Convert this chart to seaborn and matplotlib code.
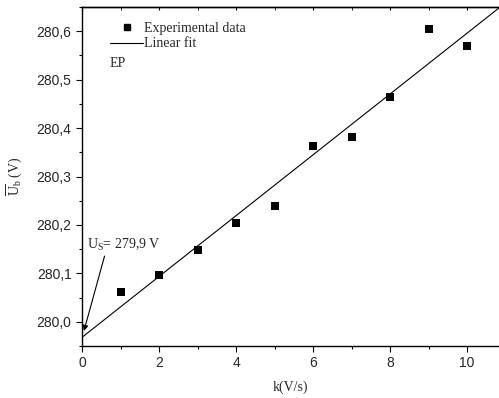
import numpy as np
import pandas as pd
from matplotlib import pyplot as plt
from matplotlib.ticker import MultipleLocator, FuncFormatter
from matplotlib.lines import Line2D
import seaborn as sb

# data
k_values = [1, 2, 3, 4, 5, 6, 7, 8, 9, 10]
ub_values = [280.062, 280.096, 280.148, 280.204, 280.240, 280.364, 280.381, 280.464, 280.604, 280.570]
us_text = 'U$_\\mathrm{S}$= 279,9 V'

df = pd.DataFrame({'k': k_values, 'Ub': ub_values})

sb.set_style('ticks')
plt.rcParams['font.family'] = ['Liberation Serif', 'DejaVu Serif']
plt.rcParams['mathtext.fontset'] = 'custom'
plt.rcParams['mathtext.rm'] = 'Liberation Serif'
plt.rcParams['mathtext.it'] = 'Liberation Serif:italic'


def comma(v, pos):
    return ('%.1f' % v).replace('.', ',')


def comma_int(v, pos):
    return '%d' % round(v)


fig = plt.figure(figsize=(4.99, 3.98), dpi=100)
ax = fig.add_axes([82 / 499, 1 - 346 / 398, 417 / 499, 339 / 398])
ax.set_xlim(0, 10.83)
ax.set_ylim(279.95, 280.65)

#experimental points + linear fit
sb.scatterplot(data=df, x='k', y='Ub', ax=ax, marker='s', s=36, color='black',
               edgecolor='black', linewidth=0, zorder=3, legend=False)
sb.regplot(data=df, x='k', y='Ub', ax=ax, scatter=False, ci=None, truncate=False,
           color='black', line_kws={'linewidth': 0.8})

ax.set_xlim(0, 10.83)
ax.set_ylim(279.95, 280.65)

# axes / ticks
ax.xaxis.set_major_locator(MultipleLocator(2))
ax.xaxis.set_minor_locator(MultipleLocator(1))
ax.yaxis.set_major_locator(MultipleLocator(0.1))
ax.yaxis.set_minor_locator(MultipleLocator(0.05))
ax.yaxis.set_major_formatter(FuncFormatter(comma))
ax.xaxis.set_major_formatter(FuncFormatter(comma_int))
ax.tick_params(which='major', direction='out', length=4, width=0.8, color='black')
ax.tick_params(which='minor', direction='out', length=2.5, width=0.8, color='black')
for lab in ax.get_xticklabels() + ax.get_yticklabels():
    lab.set_family('Liberation Sans')
    lab.set_fontsize(10)
for s in ['left', 'bottom', 'top']:
    ax.spines[s].set_visible(True)
    ax.spines[s].set_color('black')
    ax.spines[s].set_linewidth(1.0)
ax.spines['right'].set_visible(False)

top = ax.secondary_xaxis('top')
top.xaxis.set_major_locator(MultipleLocator(2))
top.xaxis.set_minor_locator(MultipleLocator(1))
top.tick_params(which='both', direction='in', length=2, labeltop=False, color='black')
top.spines['top'].set_linewidth(1.0)

ax.set_xlabel('k(V/s)', fontsize=10, labelpad=7)
ax.set_ylabel('$\\overline{\\mathrm{U}}_{\\mathrm{b}}$ (V)', fontsize=10, labelpad=9)

handles = [Line2D([], [], marker='s', color='black', linestyle='none', markersize=5),
           Line2D([], [], color='black', linewidth=0.8)]
ax.legend(handles, ['Experimental data', 'Linear fit'], loc='upper left',
          bbox_to_anchor=(0.054, 0.973), frameon=False, fontsize=10,
          handlelength=2.4, handletextpad=0.05, labelspacing=0.2, borderaxespad=0)
ax.text(28 / 417, 0.824, 'EP', transform=ax.transAxes, fontsize=10)

# intercept annotation
ax.annotate(us_text, xy=(0.05, 279.981), xytext=(0.13, 280.159),
            fontsize=10, va='center', ha='left',
            arrowprops=dict(arrowstyle='-|>', color='black', lw=0.8,
                            shrinkA=0, shrinkB=0, mutation_scale=8,
                            relpos=(0.25, 0)))

plt.savefig('out.png', dpi=100)
